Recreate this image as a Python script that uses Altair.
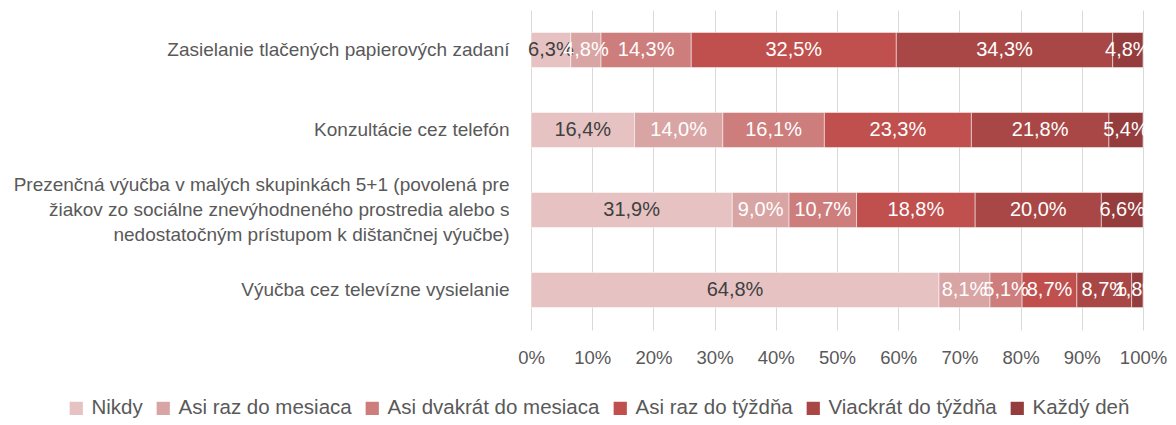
import altair as alt
import pandas as pd

categories = [
    "Zasielanie tlačených papierových zadaní",
    "Konzultácie cez telefón",
    "Prezenčná výučba v malých skupinkách 5+1 (povolená pre|žiakov zo sociálne znevýhodneného prostredia alebo s|nedostatočným prístupom k dištančnej výučbe)",
    "Výučba cez televízne vysielanie",
]
series = ["Nikdy", "Asi raz do mesiaca", "Asi dvakrát do mesiaca",
          "Asi raz do týždňa", "Viackrát do týždňa", "Každý deň"]
colors = ["#E6C3C2", "#D9A5A4", "#CD7D7C", "#BF504E", "#A94746", "#943D3C"]

vals_zasielanie = [6.3, 4.8, 14.3, 32.5, 34.3, 4.8]
vals_konzultacie = [16.4, 14.0, 16.1, 23.3, 21.8, 5.4]
vals_prezencna = [31.9, 9.0, 10.7, 18.8, 20.0, 6.6]
vals_televizia = [64.8, 8.1, 5.1, 8.7, 8.7, 1.8]
all_vals = [vals_zasielanie, vals_konzultacie, vals_prezencna, vals_televizia]

rows = []
for c, vs in zip(categories, all_vals):
    for k, (s, v) in enumerate(zip(series, vs)):
        rows.append({"cat": c, "series": s, "k": k, "value": v})
df = pd.DataFrame(rows)

FONT = "Liberation Sans"

base = alt.Chart(df).transform_stack(
    stack="value", groupby=["cat"], as_=["v0", "v1"], offset="normalize",
    sort=[alt.SortField("k", order="ascending")]
).transform_calculate(
    mid="(datum.v0 + datum.v1) / 2",
    lbl="replace(format(datum.value, '.1f'), '.', ',') + '%'"
)

y = alt.Y("cat:N", sort=categories, title=None,
          scale=alt.Scale(paddingInner=0.56, paddingOuter=0.28),
          axis=alt.Axis(labelExpr="split(datum.label, '|')", labelFontSize=19,
                        labelColor="#595959", labelPadding=22, labelLimit=0,
                        labelLineHeight=25, ticks=False, domain=False, labelFont=FONT,
                        labelOffset={"condition": {"test": "indexof(datum.value, '|') >= 0",
                                                   "value": -25}, "value": 0}))

bars = base.mark_bar(stroke="white", strokeWidth=0.5).encode(
    x=alt.X("v0:Q", title=None, scale=alt.Scale(domain=[0, 1]),
            axis=alt.Axis(format="%", values=[i / 10 for i in range(11)],
                          labelFontSize=18.5, labelColor="#595959", labelPadding=18,
                          labelFlush=False,
                          ticks=False, domain=False, gridColor="#D9D9D9",
                          labelFont=FONT)),
    x2="v1:Q",
    y=y,
    color=alt.Color("series:N", sort=series,
                    scale=alt.Scale(domain=series, range=colors),
                    legend=alt.Legend(title=None, orient="none", legendX=-465, legendY=388,
                                      direction="horizontal", symbolType="square",
                                      symbolSize=175, symbolStrokeWidth=0,
                                      labelFontSize=20.5, labelColor="#595959", labelLimit=0,
                                      labelFont=FONT, columnPadding=10, labelOffset=5)),
)

text = base.mark_text(fontSize=20, font=FONT).encode(
    x="mid:Q",
    y=alt.Y("cat:N", sort=categories),
    text="lbl:N",
    color=alt.condition("datum.k == 0", alt.value("#404040"), alt.value("white")),
)

chart = (bars + text).properties(
    width=612, height=320,
    autosize=alt.AutoSizeParams(type="none"),
    padding={"left": 523, "top": 2, "right": 25, "bottom": 95},
).configure_view(stroke=None)

chart.save("out.html", embed_options={"renderer": "svg", "actions": False})
